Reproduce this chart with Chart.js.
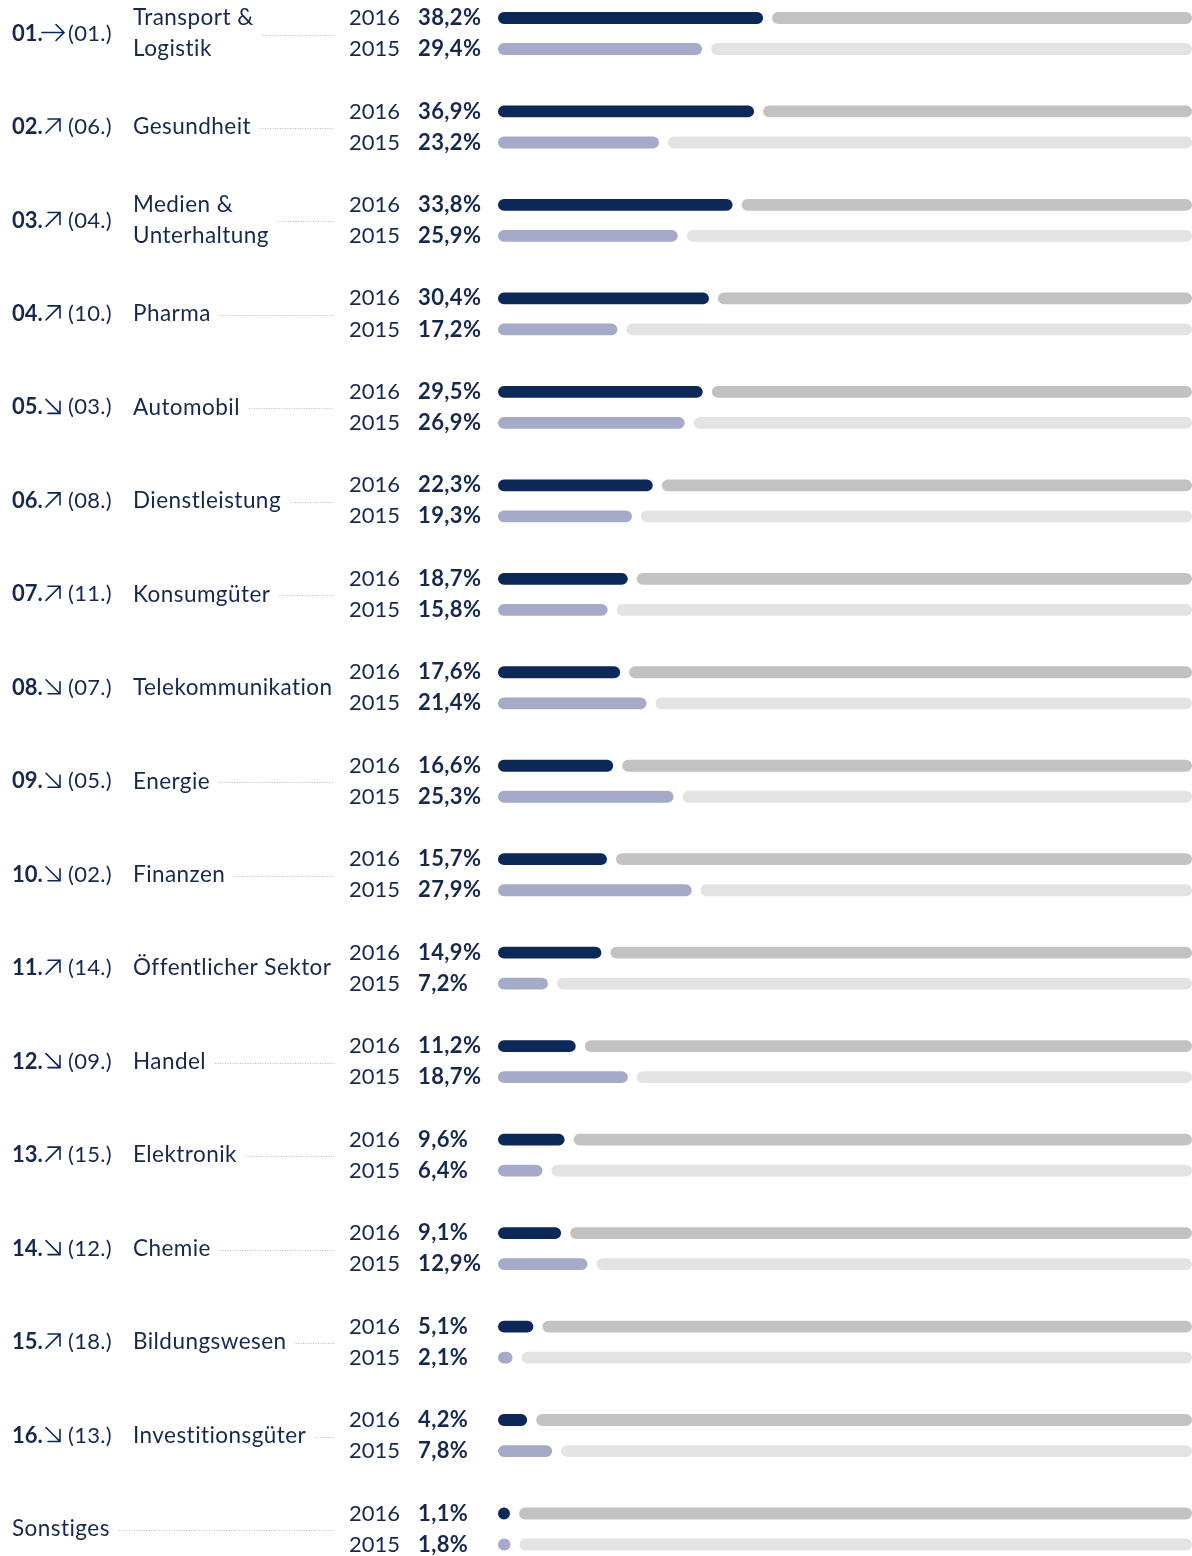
<!DOCTYPE html>
<html>
<head>
<meta charset="utf-8">
<script src="https://cdn.jsdelivr.net/npm/chart.js@4.4.1/dist/chart.umd.min.js"></script>
<style>
  html, body { margin: 0; padding: 0; background: #fff; }
  #box { width: 1192px; height: 1556px; position: relative; }
</style>
</head>
<body>
<div id="box"><canvas id="rankChart"></canvas></div>
<script>
const categories = [
  "Transport &\nLogistik", "Gesundheit", "Medien &\nUnterhaltung", "Pharma", "Automobil",
  "Dienstleistung", "Konsumgüter", "Telekommunikation", "Energie", "Finanzen",
  "Öffentlicher Sektor", "Handel", "Elektronik", "Chemie", "Bildungswesen",
  "Investitionsgüter", "Sonstiges"
];
const rank2016 = ["01.", "02.", "03.", "04.", "05.", "06.", "07.", "08.", "09.", "10.", "11.", "12.", "13.", "14.", "15.", "16.", ""];
const rank2015 = ["(01.)", "(06.)", "(04.)", "(10.)", "(03.)", "(08.)", "(11.)", "(07.)", "(05.)", "(02.)", "(14.)", "(09.)", "(15.)", "(12.)", "(18.)", "(13.)", ""];
const trend = ["same", "up", "up", "up", "down", "up", "up", "down", "down", "down", "up", "down", "up", "down", "up", "down", ""];
const values2016 = [38.2, 36.9, 33.8, 30.4, 29.5, 22.3, 18.7, 17.6, 16.6, 15.7, 14.9, 11.2, 9.6, 9.1, 5.1, 4.2, 1.1];
const values2015 = [29.4, 23.2, 25.9, 17.2, 26.9, 19.3, 15.8, 21.4, 25.3, 27.9, 7.2, 18.7, 6.4, 12.9, 2.1, 7.8, 1.8];
const years = ["2016", "2015"];

const NAVY = "#0b2857";
const TEXT = "#16294c";
const FONT = "Lato";
const FONT_SIZE = 22;

// gap between value bar and grey remainder, in percent units (100% = 694px)
const MIN_PCT = 1.75;
const GAP_PCT = 1.3;
const rest = (vals) => vals.map(v => [Math.max(v, MIN_PCT) + GAP_PCT, 100]);

const fmt = (v) => v.toFixed(1).replace(".", ",") + "%";

function drawArrow(ctx, kind, x, y) {
  ctx.save();
  ctx.strokeStyle = NAVY;
  ctx.lineWidth = 1.6;
  ctx.lineCap = "round";
  ctx.beginPath();
  if (kind === "same") {
    ctx.moveTo(x, y); ctx.lineTo(x + 22, y);
    ctx.moveTo(x + 14, y - 8); ctx.lineTo(x + 22, y); ctx.lineTo(x + 14, y + 8);
  } else if (kind === "up") {
    ctx.moveTo(x + 1, y + 7); ctx.lineTo(x + 15, y - 7);
    ctx.moveTo(x + 3, y - 7); ctx.lineTo(x + 15, y - 7); ctx.lineTo(x + 15, y + 5);
  } else if (kind === "down") {
    ctx.moveTo(x + 1, y - 7); ctx.lineTo(x + 15, y + 7);
    ctx.moveTo(x + 15, y - 5); ctx.lineTo(x + 15, y + 7); ctx.lineTo(x + 3, y + 7);
  }
  ctx.stroke();
  ctx.restore();
}

const labelsPlugin = {
  id: "rowLabels",
  afterDraw(chart) {
    const ctx = chart.ctx;
    const top = chart.getDatasetMeta(0).data;
    const bottom = chart.getDatasetMeta(2).data;
    ctx.save();
    ctx.textBaseline = "middle";
    ctx.fillStyle = TEXT;
    categories.forEach((name, i) => {
      const y1 = top[i].y;
      const y2 = bottom[i].y;
      const yc = (y1 + y2) / 2;

      // years and percentages
      ctx.letterSpacing = "0px";
      ctx.font = `${FONT_SIZE}px ${FONT}`;
      ctx.fillText(years[0], 349, y1);
      ctx.fillText(years[1], 349, y2);
      ctx.font = `bold ${FONT_SIZE}px ${FONT}`;
      ctx.letterSpacing = "0.4px";
      ctx.fillText(fmt(values2016[i]), 418, y1);
      ctx.fillText(fmt(values2015[i]), 418, y2);

      // rank block
      let nameX = 133;
      if (rank2016[i]) {
        ctx.letterSpacing = "0px";
        ctx.font = `bold ${FONT_SIZE}px ${FONT}`;
        ctx.fillText(rank2016[i], 12, yc);
        drawArrow(ctx, trend[i], trend[i] === "same" ? 42 : 45, yc - 1);
        ctx.font = `${FONT_SIZE}px ${FONT}`;
        ctx.letterSpacing = "0.3px";
        ctx.fillText(rank2015[i], 68, yc);
      } else {
        nameX = 12;
      }

      // name, one or two lines
      ctx.font = `${FONT_SIZE + 0.5}px ${FONT}`;
      ctx.letterSpacing = "0.45px";
      const lines = name.split("\n");
      let w = 0;
      if (lines.length === 2) {
        ctx.fillText(lines[0], nameX, y1);
        ctx.fillText(lines[1], nameX, y2);
        w = Math.max(ctx.measureText(lines[0]).width, ctx.measureText(lines[1]).width);
      } else {
        ctx.fillText(name, nameX, yc);
        w = ctx.measureText(name).width;
      }

      // dotted leader
      const lx = nameX + w + 9;
      if (lx < 332) {
        ctx.save();
        ctx.strokeStyle = "#b8b8b8";
        ctx.lineWidth = 1;
        ctx.setLineDash([1, 1.5]);
        ctx.beginPath();
        ctx.moveTo(lx, Math.round(yc) + 1.5);
        ctx.lineTo(334, Math.round(yc) + 1.5);
        ctx.stroke();
        ctx.restore();
      }
    });
    ctx.restore();
  }
};

const barStyle = {
  borderRadius: 6,
  borderSkipped: false,
  categoryPercentage: 0.664,
  barPercentage: 0.38,
  clip: false
};

const ctx = document.getElementById("rankChart").getContext("2d");
const rankChart = new Chart(ctx, {
  type: "bar",
  data: {
    labels: categories,
    datasets: [
      { ...barStyle, data: values2016, stack: "a", backgroundColor: NAVY, minBarLength: 12 },
      { ...barStyle, data: rest(values2016), stack: "a", backgroundColor: "#c2c2c2" },
      { ...barStyle, data: values2015, stack: "b", backgroundColor: "#a5aac9", minBarLength: 12 },
      { ...barStyle, data: rest(values2015), stack: "b", backgroundColor: "#e3e3e3" }
    ]
  },
  options: {
    indexAxis: "y",
    responsive: true,
    maintainAspectRatio: false,
    animation: false,
    layout: {
      padding: { left: 498, right: 0, top: 33.5, bottom: 27 }
    },
    plugins: {
      legend: { display: false },
      tooltip: { enabled: false }
    },
    scales: {
      x: { display: false, min: 0, max: 100, stacked: false },
      y: { display: false, offset: false }
    }
  },
  plugins: [labelsPlugin]
});
</script>
</body>
</html>
